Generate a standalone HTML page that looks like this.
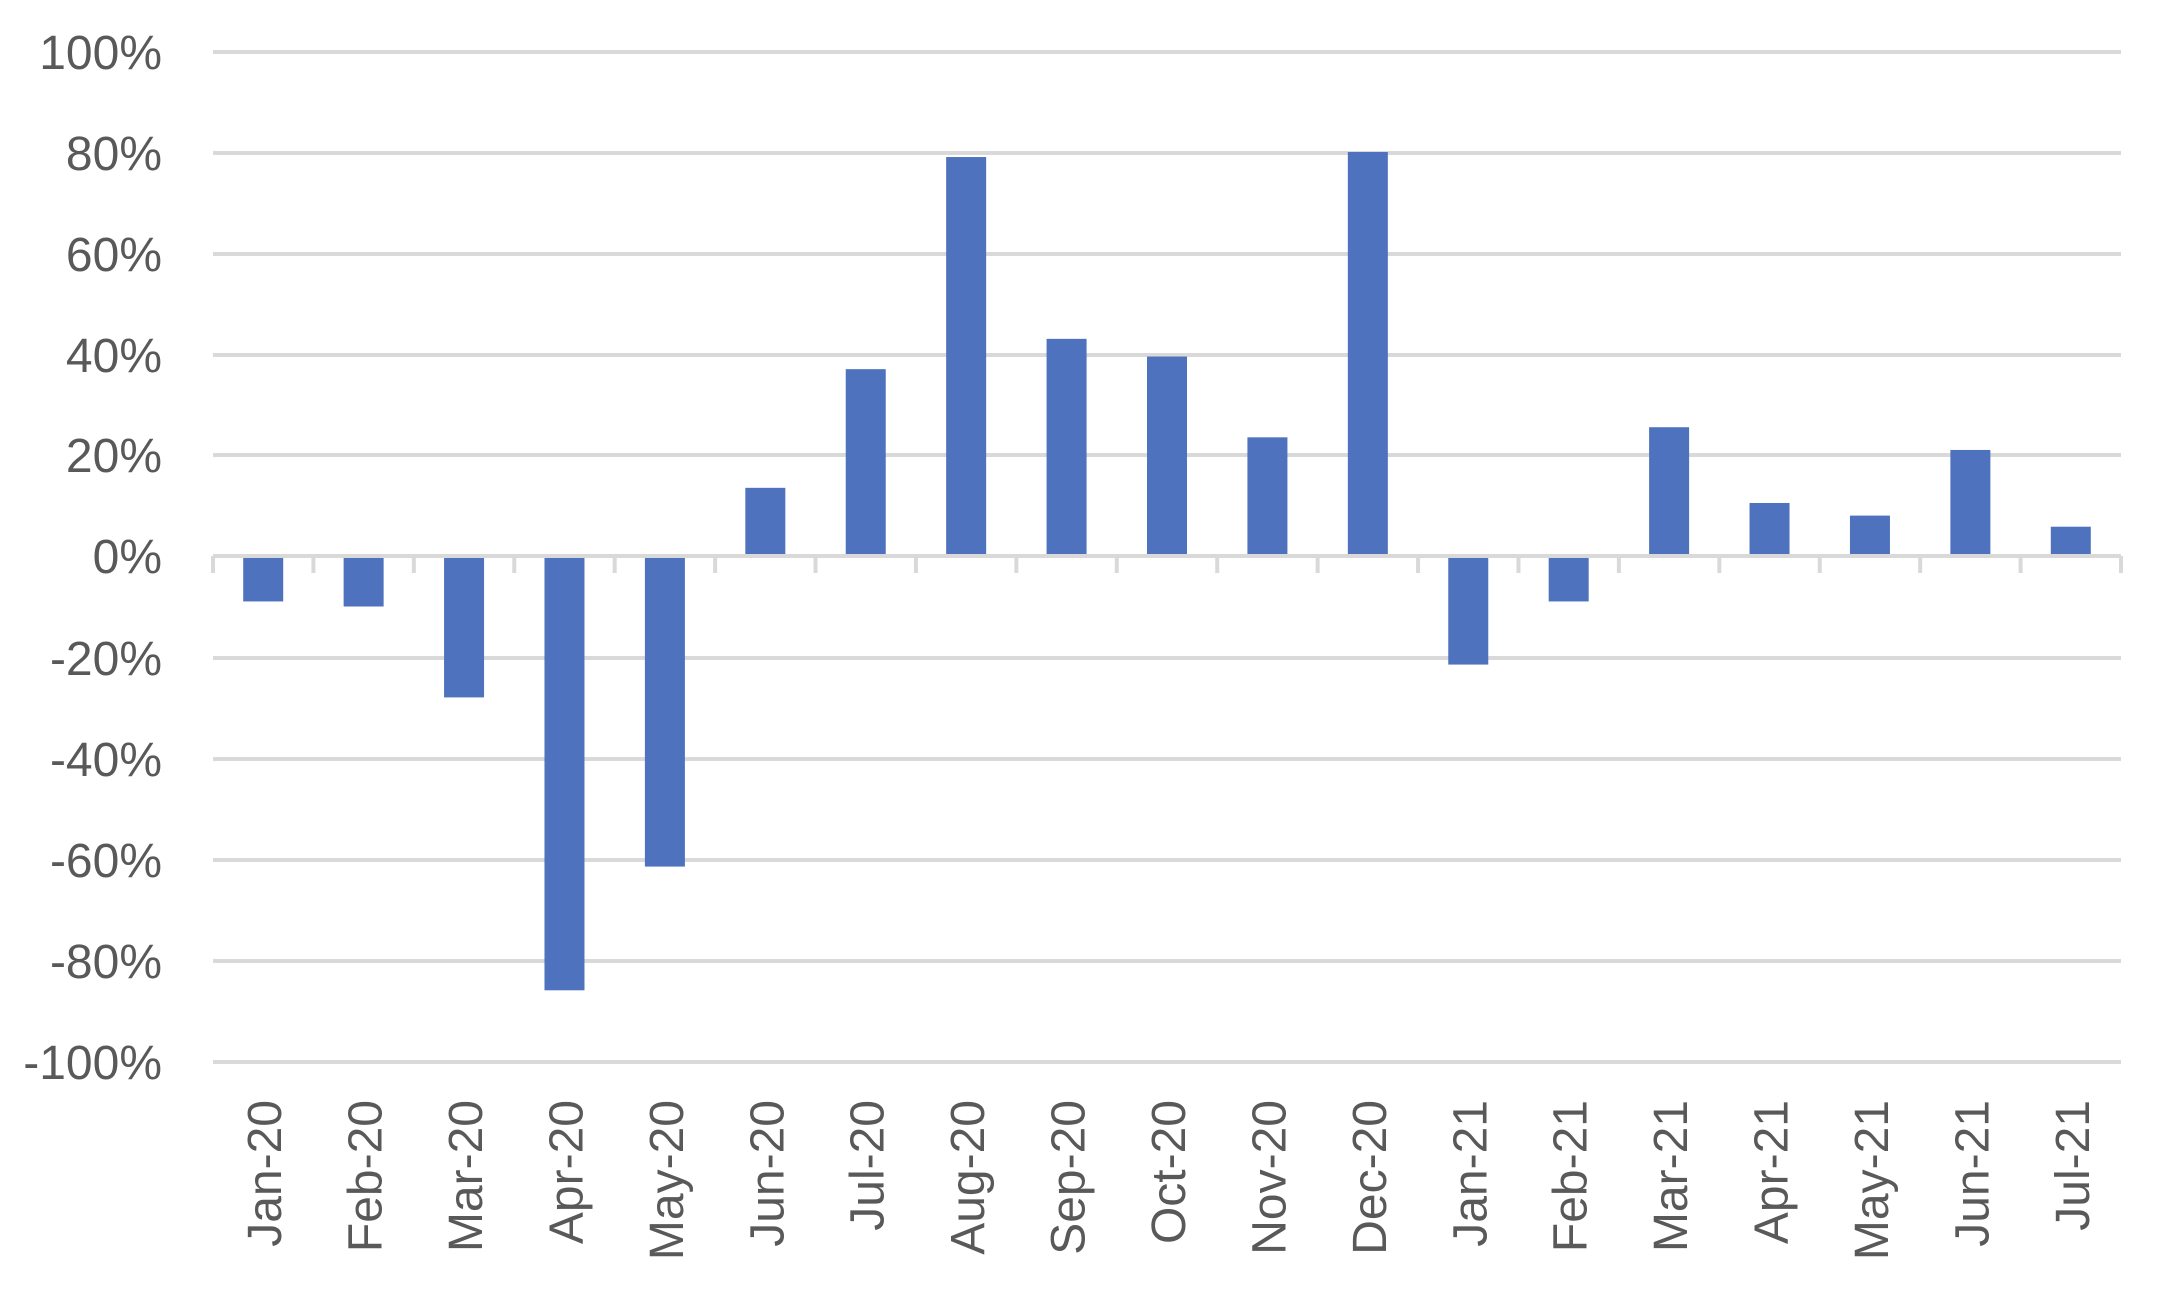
<!DOCTYPE html>
<html><head><meta charset="utf-8"><style>
html,body{margin:0;padding:0;background:#fff;}
svg{display:block;}
text{font-family:"Liberation Sans",sans-serif;fill:#595959;font-size:48px;}
</style></head><body>
<svg width="2173" height="1297" viewBox="0 0 2173 1297" xmlns="http://www.w3.org/2000/svg">
<g stroke="#d9d9d9" stroke-width="4">
<line x1="213" x2="2121" y1="52" y2="52"/>
<line x1="213" x2="2121" y1="153" y2="153"/>
<line x1="213" x2="2121" y1="254" y2="254"/>
<line x1="213" x2="2121" y1="355" y2="355"/>
<line x1="213" x2="2121" y1="455" y2="455"/>
<line x1="213" x2="2121" y1="658" y2="658"/>
<line x1="213" x2="2121" y1="759" y2="759"/>
<line x1="213" x2="2121" y1="860" y2="860"/>
<line x1="213" x2="2121" y1="961" y2="961"/>
<line x1="213" x2="2121" y1="1062" y2="1062"/>
<line x1="213" x2="2121" y1="556" y2="556"/>
</g>
<g stroke="#d9d9d9" stroke-width="4" id="ticks"></g>
<g fill="#4e72bd" id="bars"></g>
<g id="ylab" text-anchor="end">
<text x="162" y="69">100%</text>
<text x="162" y="170">80%</text>
<text x="162" y="271">60%</text>
<text x="162" y="372">40%</text>
<text x="162" y="472">20%</text>
<text x="162" y="573">0%</text>
<text x="162" y="675">-20%</text>
<text x="162" y="776">-40%</text>
<text x="162" y="877">-60%</text>
<text x="162" y="978">-80%</text>
<text x="162" y="1079">-100%</text>
</g>
<g id="xlab" text-anchor="end"></g>
<script>
(function(){
var ns="http://www.w3.org/2000/svg";
var vals=[-9,-10,-28,-86,-61.5,13.5,37,79,43,39.5,23.5,80,-21.5,-9,25.5,10.5,8,21,5.8];
var labs=["Jan-20","Feb-20","Mar-20","Apr-20","May-20","Jun-20","Jul-20","Aug-20","Sep-20","Oct-20","Nov-20","Dec-20","Jan-21","Feb-21","Mar-21","Apr-21","May-21","Jun-21","Jul-21"];
var L=213,W=(2121-213)/19,Z=556,S=5.05;
var bars=document.getElementById("bars"),ticks=document.getElementById("ticks"),xl=document.getElementById("xlab");
for(var i=0;i<=19;i++){var t=document.createElementNS(ns,"line");var x=L+i*W;t.setAttribute("x1",x);t.setAttribute("x2",x);t.setAttribute("y1",556);t.setAttribute("y2",573);ticks.appendChild(t);}
for(var i=0;i<19;i++){
var c=L+(i+0.5)*W,v=vals[i];var r=document.createElementNS(ns,"rect");
var y=v>=0?Z-v*S:Z+2;var h=v>=0?v*S-2:-v*S-2;
r.setAttribute("x",c-20);r.setAttribute("width",40);r.setAttribute("y",y);r.setAttribute("height",h);bars.appendChild(r);
var tx=document.createElementNS(ns,"text");tx.setAttribute("transform","translate("+(c+18)+",1100) rotate(-90)");tx.textContent=labs[i];xl.appendChild(tx);}
})();
</script>
</svg>
</body></html>
